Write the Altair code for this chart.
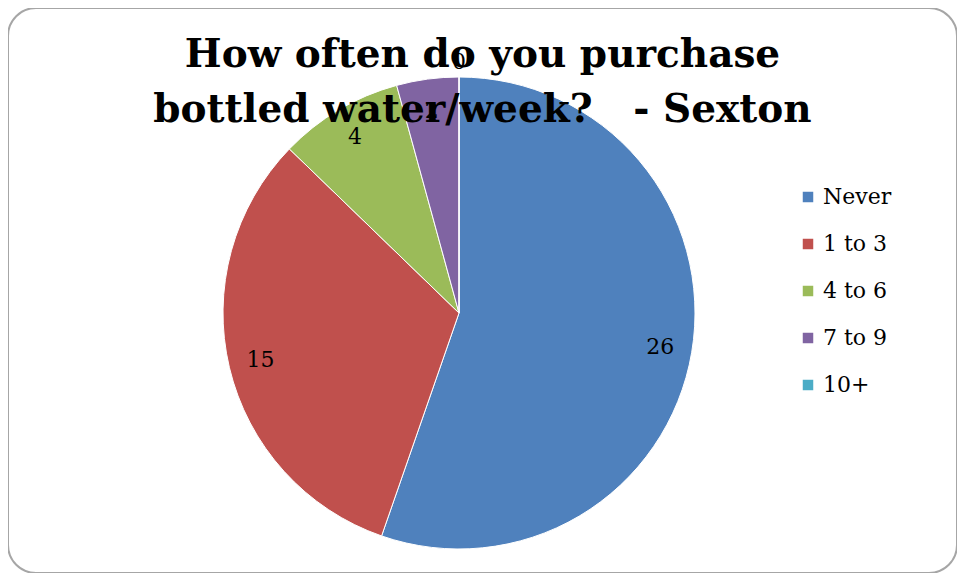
import altair as alt
import pandas as pd

categories = ["Never", "1 to 3", "4 to 6", "7 to 9", "10+"]
counts = [26, 15, 4, 2, 0]
colors = ["#4F81BD", "#C0504D", "#9BBB59", "#8064A2", "#4BACC6"]
title_lines = ["How often do you purchase", "bottled water/week?\u00a0\u00a0\u00a0- Sexton"]

df = pd.DataFrame({"category": categories, "count": counts, "idx": list(range(len(categories)))})

CX, CY, R = 451, 305, 236

color = alt.Color(
    "category:N",
    scale=alt.Scale(domain=categories, range=colors),
    sort=categories,
    legend=alt.Legend(
        title=None, orient="none", legendX=789, legendY=178,
        symbolType="square", symbolSize=110, symbolStrokeWidth=0,
        labelFont="DejaVu Serif", labelFontSize=22, labelColor="#000000",
        rowPadding=25, labelOffset=4,
    ),
)

base = alt.Chart(df)

pie = base.mark_arc(radius=R, stroke="white", strokeWidth=1).encode(
    theta=alt.Theta("count:Q", stack=True),
    color=color,
    order=alt.Order("idx:Q"),
    x=alt.value(CX), y=alt.value(CY),
)

labels = base.transform_filter("datum.count > 0").mark_text(
    radius=204, font="DejaVu Serif", fontSize=22, color="#000000"
).encode(
    theta=alt.Theta("count:Q", stack=True),
    order=alt.Order("idx:Q"),
    text="count:Q",
    x=alt.value(CX), y=alt.value(CY),
)

zero_labels = base.transform_filter("datum.count == 0").mark_text(
    radius=251, font="DejaVu Serif", fontSize=22, color="#000000"
).encode(
    theta=alt.Theta("count:Q", stack=True),
    text="count:Q",
    x=alt.value(CX), y=alt.value(CY),
)

chart = alt.layer(pie, labels, zero_labels).properties(
    width=949, height=565,
    autosize=alt.AutoSizeParams(type="none"),
    padding=0,
    title=alt.TitleParams(
        text=title_lines, font="DejaVu Serif", fontSize=39, fontWeight="bold",
        color="#000000", anchor="middle", offset=-122, lineHeight=55,
    ),
).configure_view(
    stroke="#a6a6a6", strokeWidth=2, cornerRadius=28, fill="white"
)

chart.save("out.html", embed_options={"renderer": "svg", "actions": False})
